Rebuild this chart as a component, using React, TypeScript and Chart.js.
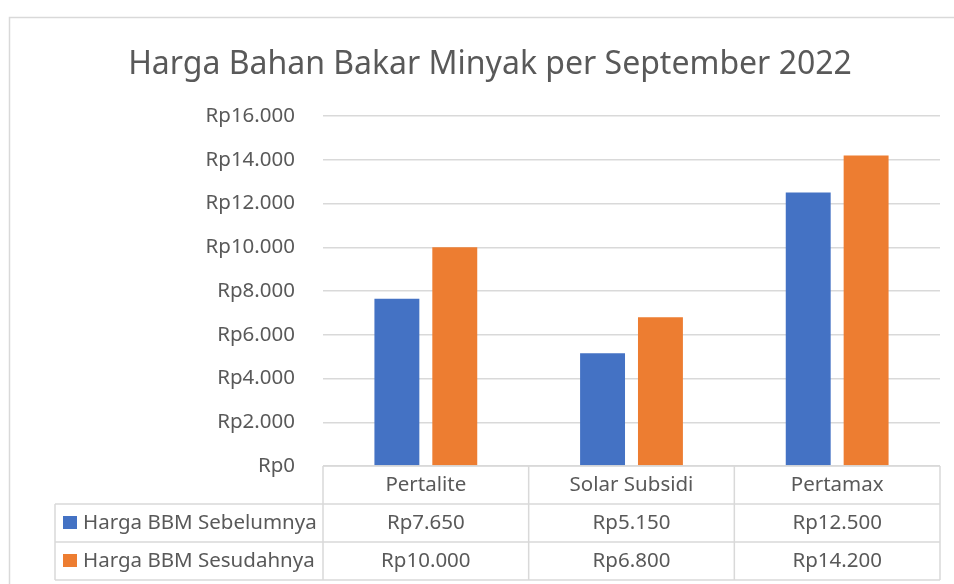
import React, { useEffect, useRef } from "react";
import { Chart, registerables } from "chart.js";
Chart.register(...registerables);

const title = "Harga Bahan Bakar Minyak per September 2022";
const categories = ["Pertalite", "Solar Subsidi", "Pertamax"];
const seriesNames = ["Harga BBM Sebelumnya", "Harga BBM Sesudahnya"];
const hargaSebelumnya = [7650, 5150, 12500];
const hargaSesudahnya = [10000, 6800, 14200];
const seriesColors = ["#4472C4", "#ED7D31"];
const yMin = 0;
const yMax = 16000;
const yStep = 2000;

const FONT = "'Noto Sans', sans-serif";
const TEXT = "#595959";
const LINE = "#d9d9d9";

const fmt = (v: number) =>
  "Rp" + String(Math.round(v)).replace(/\B(?=(\d{3})+(?!\d))/g, ".");

const W = 954;
const H = 584;

const framePlugin = {
  id: "frame",
  beforeDraw(chart: any) {
    const ctx = chart.ctx;
    ctx.save();
    ctx.fillStyle = "#ffffff";
    ctx.fillRect(0, 0, W, H);
    ctx.strokeStyle = LINE;
    ctx.lineWidth = 1.5;
    ctx.strokeRect(9.5, 17.5, 2000, 2000);
    ctx.fillStyle = TEXT;
    ctx.font = `32px ${FONT}`;
    ctx.textAlign = "center";
    ctx.textBaseline = "alphabetic";
    ctx.fillText(title, 490, 74);
    ctx.restore();
  },
  afterDraw(chart: any) {
    const ctx = chart.ctx;
    const area = chart.chartArea;
    const xs = chart.scales.x;
    const n = categories.length;
    const catW = (area.right - area.left) / n;
    const top = area.bottom;
    const rowH = 38;
    const legLeft = 55;
    const rows = [top, top + rowH, top + 2 * rowH, top + 3 * rowH];
    ctx.save();
    ctx.strokeStyle = LINE;
    ctx.lineWidth = 1.5;
    ctx.beginPath();
    ctx.moveTo(area.left, rows[0]);
    ctx.lineTo(area.right, rows[0]);
    for (let r = 1; r < 4; r++) {
      ctx.moveTo(legLeft, rows[r]);
      ctx.lineTo(area.right, rows[r]);
    }
    ctx.moveTo(legLeft, rows[1]);
    ctx.lineTo(legLeft, rows[3]);
    for (let i = 0; i <= n; i++) {
      const x = area.left + i * catW;
      ctx.moveTo(x, rows[0]);
      ctx.lineTo(x, rows[3]);
    }
    ctx.stroke();

    ctx.fillStyle = TEXT;
    ctx.font = `20.5px ${FONT}`;
    ctx.textAlign = "center";
    ctx.textBaseline = "middle";
    const seriesData = [hargaSebelumnya, hargaSesudahnya];
    for (let i = 0; i < n; i++) {
      const cx = xs.getPixelForValue(i);
      ctx.fillText(categories[i], cx, (rows[0] + rows[1]) / 2);
      for (let s = 0; s < seriesData.length; s++) {
        ctx.fillText(fmt(seriesData[s][i]), cx, (rows[s + 1] + rows[s + 2]) / 2);
      }
    }
    ctx.textAlign = "left";
    for (let s = 0; s < seriesNames.length; s++) {
      const cy = (rows[s + 1] + rows[s + 2]) / 2;
      ctx.fillStyle = seriesColors[s];
      ctx.fillRect(63, cy - 7, 14, 13);
      ctx.fillStyle = TEXT;
      ctx.fillText(seriesNames[s], 83, cy);
    }
    ctx.restore();
  },
};

export default function App() {
  const ref = useRef<HTMLCanvasElement | null>(null);
  useEffect(() => {
    document.body.style.margin = "0";
    const chart = new Chart(ref.current as HTMLCanvasElement, {
      type: "bar",
      data: {
        labels: categories,
        datasets: [
          {
            label: seriesNames[0],
            data: hargaSebelumnya,
            backgroundColor: seriesColors[0],
            categoryPercentage: 0.563,
            barPercentage: 0.776,
          },
          {
            label: seriesNames[1],
            data: hargaSesudahnya,
            backgroundColor: seriesColors[1],
            categoryPercentage: 0.563,
            barPercentage: 0.776,
          },
        ],
      },
      options: {
        responsive: false,
        animation: false,
        devicePixelRatio: 1,
        layout: { padding: { top: 116, bottom: 118, right: 14, left: 0 } },
        plugins: {
          legend: { display: false },
          title: { display: false },
          tooltip: { enabled: false },
        },
        scales: {
          x: { display: false, grid: { display: false } },
          y: {
            min: yMin,
            max: yMax,
            afterFit: (scale: any) => {
              scale.width = 323;
            },
            ticks: {
              stepSize: yStep,
              padding: 28,
              color: TEXT,
              font: { family: FONT, size: 20.5 },
              callback: (v: any) => fmt(Number(v)),
            },
            grid: { color: LINE, lineWidth: 1.5, drawTicks: false },
            border: { display: false },
          },
        },
      },
      plugins: [framePlugin],
    });
    return () => chart.destroy();
  }, []);
  return (
    <div style={{ position: "absolute", left: 0, top: 0, width: W, height: H }}>
      <canvas ref={ref} width={W} height={H} />
    </div>
  );
}
